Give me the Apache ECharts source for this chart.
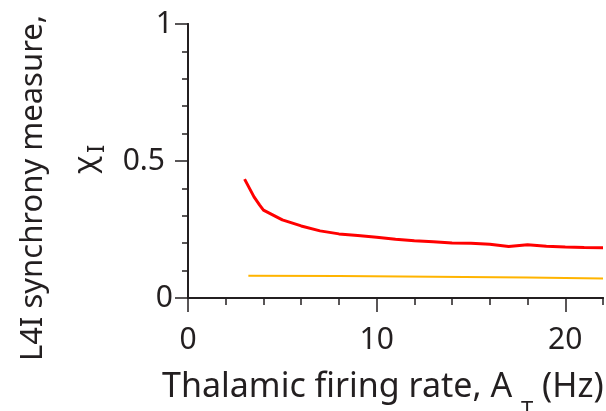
<!DOCTYPE html>
<html>
<head>
<meta charset="utf-8">
<script src="https://cdn.jsdelivr.net/npm/echarts@6/dist/echarts.min.js"></script>
<style>html,body{margin:0;padding:0;background:#fff;}#c{width:606px;height:411px;}</style>
</head>
<body>
<div id="c"></div>
<script>
var redX = [3, 3.5, 3.8, 4, 5, 6, 7, 8, 9, 10, 11, 12, 13, 14, 15, 16, 17, 18, 19, 20, 21, 22];
var redY = [0.434, 0.369, 0.339, 0.321, 0.285, 0.263, 0.245, 0.234, 0.228, 0.222, 0.214, 0.209, 0.205, 0.201, 0.200, 0.196, 0.188, 0.194, 0.189, 0.186, 0.184, 0.183];
var yelX = [3.2, 8, 13, 18, 22];
var yelY = [0.081, 0.080, 0.078, 0.075, 0.071];
var xMajor = [0, 10, 20];
var yMajor = [0, 0.5, 1];
var xTitle = 'Thalamic firing rate, A';
var xSub = 'T';
var xUnit = '(Hz)';
var yTitle = 'L4I synchrony measure,';
var ySym = 'χ';
var ySub = 'I';

function pairs(xs, ys) { return xs.map(function (x, i) { return [x, ys[i]]; }); }

var axisColor = '#231f20';
var FONT = 'Noto Sans';
var chart = echarts.init(document.getElementById('c'), null, {renderer: 'canvas'});
chart.setOption({
  animation: false,
  backgroundColor: '#fff',
  grid: {left: 188, right: 3, top: 24, bottom: 113, containLabel: false},
  xAxis: [{
    type: 'value', min: 0, max: 22, interval: 2,
    axisLine: {show: true, lineStyle: {color: axisColor, width: 2}},
    axisTick: {show: true, length: 7, lineStyle: {color: axisColor, width: 1.5}},
    axisLabel: {show: false}, splitLine: {show: false}
  }, {
    type: 'value', min: 0, max: 22, position: 'bottom',
    axisLine: {show: true, lineStyle: {color: axisColor, width: 2}},
    axisTick: {show: true, length: 14, customValues: xMajor, lineStyle: {color: axisColor, width: 1.5}},
    axisLabel: {show: true, customValues: xMajor, margin: 27, fontSize: 30, fontFamily: FONT, color: axisColor},
    splitLine: {show: false}
  }],
  yAxis: [{
    type: 'value', min: 0, max: 1, interval: 0.1,
    axisLine: {show: true, lineStyle: {color: axisColor, width: 2}},
    axisTick: {show: true, length: 6, lineStyle: {color: axisColor, width: 1.5}},
    axisLabel: {show: false}, splitLine: {show: false}
  }, {
    type: 'value', min: 0, max: 1, position: 'left',
    axisLine: {show: true, lineStyle: {color: axisColor, width: 2}},
    axisTick: {show: true, length: 13, customValues: yMajor, lineStyle: {color: axisColor, width: 1.5}},
    axisLabel: {show: true, customValues: yMajor, margin: 15, fontSize: 30, fontFamily: FONT, color: axisColor,
      formatter: function (v) { return v === 0.5 ? '{p|0.5}' : String(v); },
      rich: {p: {fontSize: 30, fontFamily: FONT, color: axisColor, padding: [0, 8, 0, 0]}}},
    splitLine: {show: false}
  }],
  series: [{
    type: 'line', xAxisIndex: 0, yAxisIndex: 0, data: pairs(redX, redY),
    showSymbol: false, symbol: 'none', lineStyle: {color: '#ff0000', width: 3}
  }, {
    type: 'line', xAxisIndex: 0, yAxisIndex: 0, data: pairs(yelX, yelY),
    showSymbol: false, symbol: 'none', lineStyle: {color: '#ffb400', width: 2}
  }],
  graphic: [{
    type: 'text', x: 162, y: 370,
    style: {
      text: '{m|' + xTitle + ' }{s|' + xSub + '}{m| ' + xUnit + '}',
      fill: axisColor, align: 'left', verticalAlign: 'top',
      rich: {
        m: {fontSize: 34, fontFamily: FONT, fill: axisColor, lineHeight: 34, verticalAlign: 'top'},
        s: {fontSize: 22, fontFamily: FONT, fill: axisColor, lineHeight: 22, verticalAlign: 'top', padding: [30, 0, 0, 0]}
      }
    }
  }, {
    type: 'text', x: 33, y: 188, rotation: Math.PI / 2,
    style: {text: yTitle, font: '31px "Noto Sans"', fill: axisColor, align: 'center', verticalAlign: 'middle'}
  }, {
    type: 'text', x: 86, y: 165, rotation: Math.PI / 2,
    style: {text: ySym, font: '30px "Noto Sans"', fill: axisColor, align: 'center', verticalAlign: 'middle'}
  }, {
    type: 'text', x: 97, y: 149, rotation: Math.PI / 2,
    style: {text: ySub, font: '24px "Noto Sans"', fill: axisColor, align: 'center', verticalAlign: 'middle'}
  }]
});
</script>
</body>
</html>
